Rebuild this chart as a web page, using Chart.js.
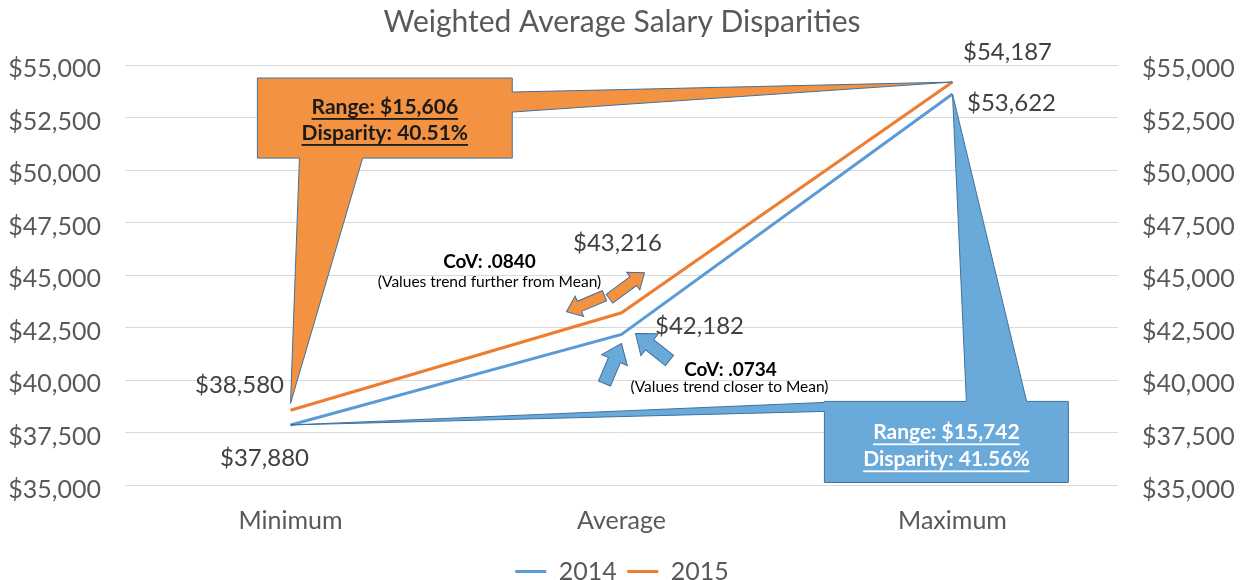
<!DOCTYPE html>
<html>
<head>
<meta charset="utf-8">
<script src="https://cdn.jsdelivr.net/npm/chart.js@4.4.1/dist/chart.umd.min.js"></script>
<style>
html, body { margin: 0; padding: 0; background: #fff; }
#wrap { width: 1244px; height: 580px; }
</style>
</head>
<body>
<div id="wrap"><canvas id="myChart"></canvas></div>
<script>
// chart values
var categories = ['Minimum', 'Average', 'Maximum'];
var salary2014 = [37880, 42182, 53622];
var salary2015 = [38580, 43216, 54187];
var yTicks = [35000, 37500, 40000, 42500, 45000, 47500, 50000, 52500, 55000];

// callout text
var callout2015 = ['Range: $15,606', 'Disparity: 40.51%'];
var callout2014 = ['Range: $15,742', 'Disparity: 41.56%'];
var cov2015 = ['CoV: .0840', '(Values trend further from Mean)'];
var cov2014 = ['CoV: .0734', '(Values trend closer to Mean)'];

var FONT = 'Lato, "Open Sans", sans-serif';
var BLUE = '#5b9bd5';
var ORANGE = '#ed7d31';

function money(v) {
    return '$' + v.toLocaleString('en-US');
}

// label offsets from each point [dx, dy]
var labelOffsets = {
    0: [[-26, 33], [78, -8], [59, 9]],
    1: [[-51, -25], [-4, -69], [55, -30]]
};

function blockArrow(ctx, x1, y1, x2, y2, shaft, head, headLen, fill) {
    var ang = Math.atan2(y2 - y1, x2 - x1);
    var len = Math.hypot(x2 - x1, y2 - y1);
    ctx.save();
    ctx.translate(x1, y1);
    ctx.rotate(ang);
    ctx.beginPath();
    ctx.moveTo(0, -shaft / 2);
    ctx.lineTo(len - headLen, -shaft / 2);
    ctx.lineTo(len - headLen, -head / 2);
    ctx.lineTo(len, 0);
    ctx.lineTo(len - headLen, head / 2);
    ctx.lineTo(len - headLen, shaft / 2);
    ctx.lineTo(0, shaft / 2);
    ctx.closePath();
    ctx.fillStyle = fill;
    ctx.fill();
    ctx.lineWidth = 1;
    ctx.strokeStyle = '#41719c';
    ctx.stroke();
    ctx.restore();
}

function underlinedText(ctx, text, x, y, color) {
    ctx.fillStyle = color;
    ctx.fillText(text, x, y);
    var w = ctx.measureText(text).width;
    ctx.fillRect(x - w / 2, y + 11, w, 1.8);
}

var annotations = {
    id: 'annotations',
    afterDatasetsDraw: function (chart) {
        var ctx = chart.ctx;
        var xs = chart.scales.x, ys = chart.scales.y;
        var step = xs.getPixelForValue(1) - xs.getPixelForValue(0);
        function P(c, v) {
            return [xs.getPixelForValue(0) + c * step, ys.getPixelForValue(v)];
        }
        function poly(pts, fill) {
            ctx.beginPath();
            ctx.moveTo(pts[0][0], pts[0][1]);
            for (var i = 1; i < pts.length; i++) ctx.lineTo(pts[i][0], pts[i][1]);
            ctx.closePath();
            ctx.fillStyle = fill;
            ctx.fill();
            ctx.lineWidth = 1;
            ctx.strokeStyle = '#41719c';
            ctx.stroke();
        }
        ctx.save();

        // orange callout (2015)
        var oFill = '#f39241';
        var oL = P(-0.10, 54381), oR = P(0.67, 50571);
        poly([oL, [oR[0], oL[1]], P(0.67, 53714), P(2, salary2015[2]), P(0.67, 52762),
              oR, P(0.218, 50571), P(0, 38905), P(0.027, 50571), [oL[0], oR[1]]], oFill);

        // blue callout (2014)
        var bFill = '#6aaadb';
        var bL = P(1.613, 39000), bR = P(2.35, 35143);
        poly([bL, P(2.042, 39000), P(2, salary2014[2]), P(2.224, 39000), [bR[0], bL[1]],
              bR, [bL[0], bR[1]], P(1.613, 38524), P(0, salary2014[0]), P(1.613, 38952)], bFill);

        ctx.textAlign = 'center';
        ctx.textBaseline = 'middle';
        ctx.font = 'bold 21px ' + FONT;
        var oc = (oL[0] + oR[0]) / 2;
        underlinedText(ctx, callout2015[0], oc, oL[1] + 29, '#1a1a1a');
        underlinedText(ctx, callout2015[1], oc, oL[1] + 55, '#1a1a1a');
        var bc = (bL[0] + bR[0]) / 2;
        underlinedText(ctx, callout2014[0], bc, bL[1] + 31, '#ffffff');
        underlinedText(ctx, callout2014[1], bc, bL[1] + 58, '#ffffff');

        // arrows around the average points
        var a15 = P(1, salary2015[1]);
        blockArrow(ctx, a15[0] - 12, a15[1] - 14, a15[0] + 23, a15[1] - 40, 11, 22, 14, oFill);
        blockArrow(ctx, a15[0] - 17, a15[1] - 17, a15[0] - 55, a15[1] - 1, 11, 22, 14, oFill);
        var a14 = P(1, salary2014[1]);
        blockArrow(ctx, a14[0] - 17, a14[1] + 49, a14[0] + 0, a14[1] + 9, 13, 28, 18, bFill);
        blockArrow(ctx, a14[0] + 48, a14[1] + 26, a14[0] + 14, a14[1] - 1, 13, 28, 18, bFill);

        // CoV notes
        ctx.fillStyle = '#000000';
        ctx.font = 'bold 19px ' + FONT;
        ctx.fillText(cov2015[0], a15[0] - 132, a15[1] - 51);
        ctx.fillText(cov2014[0], a14[0] + 109, a14[1] + 35);
        ctx.font = '15.5px ' + FONT;
        ctx.fillText(cov2015[1], a15[0] - 132, a15[1] - 31);
        ctx.fillText(cov2014[1], a14[0] + 108, a14[1] + 53);

        // data labels
        ctx.font = '24px ' + FONT;
        ctx.fillStyle = '#404040';
        chart.data.datasets.forEach(function (ds, di) {
            var meta = chart.getDatasetMeta(di);
            meta.data.forEach(function (pt, i) {
                var off = labelOffsets[di][i];
                ctx.fillText(money(ds.data[i]), pt.x + off[0], pt.y + off[1]);
            });
        });
        ctx.restore();
    }
};

var tickFont = { family: FONT, size: 25 };

var ctx = document.getElementById('myChart').getContext('2d');
var myChart = new Chart(ctx, {
    type: 'line',
    data: {
        labels: categories,
        datasets: [{
            label: '2014',
            data: salary2014,
            borderColor: BLUE,
            backgroundColor: BLUE,
            borderWidth: 3,
            pointRadius: 0,
            tension: 0
        }, {
            label: '2015',
            data: salary2015,
            borderColor: ORANGE,
            backgroundColor: ORANGE,
            borderWidth: 3,
            pointRadius: 0,
            tension: 0
        }]
    },
    options: {
        responsive: true,
        maintainAspectRatio: false,
        animation: false,
        layout: { padding: { top: 4, bottom: -14 } },
        plugins: {
            title: {
                display: true,
                text: 'Weighted Average Salary Disparities',
                color: '#595959',
                font: { family: FONT, size: 30, weight: 'normal' },
                padding: { top: 0, bottom: 25 }
            },
            legend: {
                position: 'bottom',
                labels: {
                    color: '#595959',
                    font: { family: FONT, size: 25 },
                    usePointStyle: true,
                    pointStyle: 'line',
                    pointStyleWidth: 31,
                    padding: 10.5
                }
            },
            tooltip: { enabled: false }
        },
        scales: {
            x: {
                offset: true,
                grid: { display: false },
                border: { display: false },
                ticks: {
                    color: '#595959',
                    font: { family: FONT, size: 25, lineHeight: 1 },
                    padding: 15
                }
            },
            y: {
                position: 'left',
                min: 35000,
                max: 55000,
                afterBuildTicks: function (s) { s.ticks = yTicks.map(function (v) { return { value: v }; }); },
                afterFit: function (s) { s.width = 125; },
                grid: { color: '#d9d9d9', drawTicks: false },
                border: { display: false },
                ticks: {
                    color: '#595959',
                    font: tickFont,
                    padding: 24,
                    labelOffset: 4,
                    callback: function (v) { return money(v); }
                }
            },
            y2: {
                position: 'right',
                min: 35000,
                max: 55000,
                afterBuildTicks: function (s) { s.ticks = yTicks.map(function (v) { return { value: v }; }); },
                afterFit: function (s) { s.width = 126; },
                grid: { display: false, drawTicks: false },
                border: { display: false },
                ticks: {
                    color: '#595959',
                    font: tickFont,
                    padding: 24,
                    labelOffset: 4,
                    callback: function (v) { return money(v); }
                }
            }
        }
    },
    plugins: [annotations]
});
</script>
</body>
</html>
